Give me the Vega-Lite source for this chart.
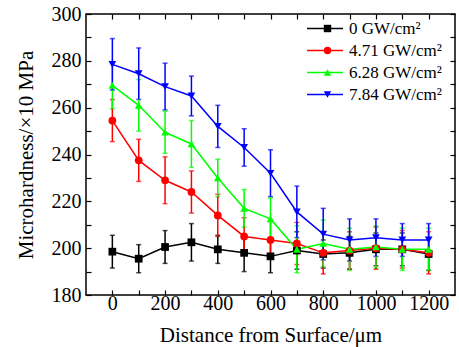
{
  "$schema": "https://vega.github.io/schema/vega-lite/v6.json",
  "width": 369,
  "height": 281,
  "autosize": "none",
  "padding": {"left": 86, "top": 14, "right": 4, "bottom": 52},
  "background": "white",
  "config": {
    "view": {"stroke": "black", "strokeWidth": 1.5},
    "font": "Liberation Serif",
    "axis": {
      "labelFont": "Liberation Serif",
      "titleFont": "Liberation Serif",
      "labelColor": "black",
      "titleColor": "black",
      "domain": false,
      "grid": false,
      "tickColor": "black",
      "tickWidth": 1.2,
      "tickSize": -5,
      "labelFontSize": 20,
      "titleFontSize": 21,
      "titleFontWeight": "normal"
    },
    "legend": {"labelFont": "Liberation Serif", "labelFontSize": 17, "labelColor": "black"}
  },
  "data": {
    "values": [
      {"d": 0, "s": "0 GW/cm²", "v": 198.5, "e": 7},
      {"d": 100, "s": "0 GW/cm²", "v": 195.5, "e": 6},
      {"d": 200, "s": "0 GW/cm²", "v": 200.5, "e": 7},
      {"d": 300, "s": "0 GW/cm²", "v": 202.5, "e": 8},
      {"d": 400, "s": "0 GW/cm²", "v": 199.5, "e": 6},
      {"d": 500, "s": "0 GW/cm²", "v": 198, "e": 8},
      {"d": 600, "s": "0 GW/cm²", "v": 196.5, "e": 7},
      {"d": 700, "s": "0 GW/cm²", "v": 199, "e": 8},
      {"d": 800, "s": "0 GW/cm²", "v": 197.5, "e": 6},
      {"d": 900, "s": "0 GW/cm²", "v": 198, "e": 7},
      {"d": 1000, "s": "0 GW/cm²", "v": 199.5, "e": 7},
      {"d": 1100, "s": "0 GW/cm²", "v": 199.5, "e": 7},
      {"d": 1200, "s": "0 GW/cm²", "v": 197.5, "e": 7},
      {"d": 0, "s": "4.71 GW/cm²", "v": 254.5, "e": 9},
      {"d": 100, "s": "4.71 GW/cm²", "v": 237.5, "e": 9},
      {"d": 200, "s": "4.71 GW/cm²", "v": 229, "e": 10},
      {"d": 300, "s": "4.71 GW/cm²", "v": 224, "e": 9},
      {"d": 400, "s": "4.71 GW/cm²", "v": 214, "e": 9},
      {"d": 500, "s": "4.71 GW/cm²", "v": 205, "e": 8},
      {"d": 600, "s": "4.71 GW/cm²", "v": 203.5, "e": 8},
      {"d": 700, "s": "4.71 GW/cm²", "v": 202, "e": 9},
      {"d": 800, "s": "4.71 GW/cm²", "v": 198, "e": 9},
      {"d": 900, "s": "4.71 GW/cm²", "v": 199, "e": 8},
      {"d": 1000, "s": "4.71 GW/cm²", "v": 200, "e": 9},
      {"d": 1100, "s": "4.71 GW/cm²", "v": 199.5, "e": 8},
      {"d": 1200, "s": "4.71 GW/cm²", "v": 198, "e": 9},
      {"d": 0, "s": "6.28 GW/cm²", "v": 269.5, "e": 10},
      {"d": 100, "s": "6.28 GW/cm²", "v": 261, "e": 11},
      {"d": 200, "s": "6.28 GW/cm²", "v": 249.5, "e": 9},
      {"d": 300, "s": "6.28 GW/cm²", "v": 244.5, "e": 10},
      {"d": 400, "s": "6.28 GW/cm²", "v": 230, "e": 8},
      {"d": 500, "s": "6.28 GW/cm²", "v": 217, "e": 8},
      {"d": 600, "s": "6.28 GW/cm²", "v": 212.5, "e": 9},
      {"d": 700, "s": "6.28 GW/cm²", "v": 199.5, "e": 10},
      {"d": 800, "s": "6.28 GW/cm²", "v": 202, "e": 10},
      {"d": 900, "s": "6.28 GW/cm²", "v": 199.5, "e": 9},
      {"d": 1000, "s": "6.28 GW/cm²", "v": 200.5, "e": 9},
      {"d": 1100, "s": "6.28 GW/cm²", "v": 199.5, "e": 9},
      {"d": 1200, "s": "6.28 GW/cm²", "v": 199.5, "e": 9},
      {"d": 0, "s": "7.84 GW/cm²", "v": 278.5, "e": 11},
      {"d": 100, "s": "7.84 GW/cm²", "v": 274.5, "e": 11},
      {"d": 200, "s": "7.84 GW/cm²", "v": 269, "e": 10},
      {"d": 300, "s": "7.84 GW/cm²", "v": 265, "e": 8.5},
      {"d": 400, "s": "7.84 GW/cm²", "v": 252, "e": 9},
      {"d": 500, "s": "7.84 GW/cm²", "v": 243, "e": 8},
      {"d": 600, "s": "7.84 GW/cm²", "v": 232, "e": 10},
      {"d": 700, "s": "7.84 GW/cm²", "v": 215.5, "e": 11},
      {"d": 800, "s": "7.84 GW/cm²", "v": 206, "e": 11},
      {"d": 900, "s": "7.84 GW/cm²", "v": 203.5, "e": 9},
      {"d": 1000, "s": "7.84 GW/cm²", "v": 204.5, "e": 8},
      {"d": 1100, "s": "7.84 GW/cm²", "v": 203.5, "e": 7},
      {"d": 1200, "s": "7.84 GW/cm²", "v": 203.5, "e": 7}
    ]
  },
  "resolve": {"axis": {"x": "independent", "y": "independent"}, "legend": {"color": "independent", "shape": "independent"}},
  "layer": [
    {
      "mark": {"type": "errorbar", "ticks": {"size": 5, "thickness": 1.5}, "thickness": 1.5},
      "encoding": {
        "x": {"field": "d", "type": "quantitative", "scale": {"domain": [-100, 1300], "nice": false},
          "axis": {"orient": "bottom", "values": [0,100,200,300,400,500,600,700,800,900,1000,1100,1200], "labelExpr": "datum.value % 200 === 0 ? datum.label : ''", "format": "d", "labelPadding": 3, "title": "Distance from Surface/μm", "titlePadding": 11}},
        "y": {"field": "v", "type": "quantitative", "scale": {"domain": [180, 300], "nice": false}, "title": "Microhardness/×10 MPa",
          "axis": {"orient": "left", "values": [180,190,200,210,220,230,240,250,260,270,280,290,300], "labelExpr": "datum.value % 20 === 0 ? datum.label : ''", "labelPadding": 10, "titlePadding": 15}},
        "yError": {"field": "e"},
        "color": {"field": "s", "type": "nominal", "legend": null,
          "scale": {"domain": ["0 GW/cm²", "4.71 GW/cm²", "6.28 GW/cm²", "7.84 GW/cm²"], "range": ["#000000", "#ff0000", "#00ff00", "#0000ff"]}}
      }
    },
    {
      "mark": {"type": "line", "strokeWidth": 1.5},
      "encoding": {
        "x": {"field": "d", "type": "quantitative", "axis": {"orient": "top", "values": [0,100,200,300,400,500,600,700,800,900,1000,1100,1200], "labels": false, "title": null}},
        "y": {"field": "v", "type": "quantitative", "axis": {"orient": "right", "values": [180,190,200,210,220,230,240,250,260,270,280,290,300], "labels": false, "title": null}},
        "color": {"field": "s", "type": "nominal",
          "legend": {"title": null, "orient": "none", "legendX": 220, "legendY": 6, "symbolType": "stroke", "symbolSize": 1296, "symbolStrokeWidth": 1.5, "labelOffset": 5, "rowPadding": 4, "clipHeight": 17}}
      }
    },
    {
      "mark": {"type": "point", "filled": true, "opacity": 1},
      "encoding": {
        "x": {"field": "d", "type": "quantitative", "axis": null},
        "y": {"field": "v", "type": "quantitative", "axis": null},
        "color": {"field": "s", "type": "nominal",
          "legend": {"title": null, "orient": "none", "legendX": 233, "legendY": 6, "symbolSize": 55, "labelOffset": 5, "rowPadding": 4, "clipHeight": 17, "labelExpr": "' '", "symbolOpacity": 1}},
        "shape": {"field": "s", "type": "nominal", "legend": null,
          "scale": {"domain": ["0 GW/cm²", "4.71 GW/cm²", "6.28 GW/cm²", "7.84 GW/cm²"], "range": ["square", "circle", "triangle-up", "triangle-down"]}},
        "size": {"value": 60}
      }
    }
  ]
}
